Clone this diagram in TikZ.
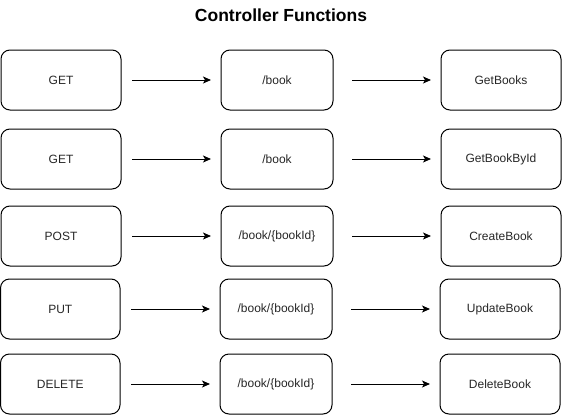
\documentclass[tikz,border=0pt]{standalone}
\usepackage{fontspec}
\setmainfont{Liberation Sans}
\usetikzlibrary{arrows.meta}
\begin{document}
\begin{tikzpicture}[x=1pt,y=-1pt,
  box/.style={draw=black,line width=1pt,rounded corners=9pt,font=\fontsize{12}{14}\selectfont,text=black!85},
  conn/.style={line width=1pt,-{Stealth[length=8pt,width=7pt,inset=2pt]}}]
\useasboundingbox (0,0) rectangle (562,415);
\node[font=\bfseries\fontsize{17.5}{20}\selectfont] (title) at (281,15) {Controller Functions};
% row 1
\path[box] (1,50) rectangle (121,110) node[pos=0.5,draw=none] (m1) {GET};
\path[box] (221,50) rectangle (333,110) node[pos=0.5,draw=none] (p1) {/book};
\path[box] (441,50) rectangle (561,110) node[pos=0.5,draw=none] (f1) {GetBooks};
% row 2
\path[box] (1,129) rectangle (121,189) node[pos=0.5,draw=none] (m2) {GET};
\path[box] (221,129) rectangle (333,189) node[pos=0.5,draw=none] (p2) {/book};
\path[box] (441,129) rectangle (561,189) node[pos=0.5,draw=none] (f2) {GetBookById};
% row 3
\path[box] (1,206) rectangle (121,266) node[pos=0.5,draw=none] (m3) {POST};
\path[box] (221,206) rectangle (333,266) node[pos=0.5,draw=none] (p3) {/book/\{bookId\}};
\path[box] (441,206) rectangle (561,266) node[pos=0.5,draw=none] (f3) {CreateBook};
% row 4
\path[box] (0.5,279) rectangle (120,339) node[pos=0.5,draw=none] (m4) {PUT};
\path[box] (220,279) rectangle (332,339) node[pos=0.5,draw=none] (p4) {/book/\{bookId\}};
\path[box] (440,279) rectangle (560,339) node[pos=0.5,draw=none] (f4) {UpdateBook};
% row 5
\path[box] (0.5,354) rectangle (120,414) node[pos=0.5,draw=none] (m5) {DELETE};
\path[box] (220,354) rectangle (332,414) node[pos=0.5,draw=none] (p5) {/book/\{bookId\}};
\path[box] (440,354) rectangle (560,414) node[pos=0.5,draw=none] (f5) {DeleteBook};
% connector endpoints
\foreach \r/\y/\o in {1/80/0,2/159/0,3/236/0,4/309/-1,5/384/-1}{
  \coordinate (a\r) at (132+\o,\y);
  \coordinate (b\r) at (211+\o,\y);
  \coordinate (c\r) at (352+\o,\y);
  \coordinate (d\r) at (431+\o,\y);
  \draw[conn] (a\r) -- (b\r);
  \draw[conn] (c\r) -- (d\r);
}
\end{tikzpicture}
\end{document}
